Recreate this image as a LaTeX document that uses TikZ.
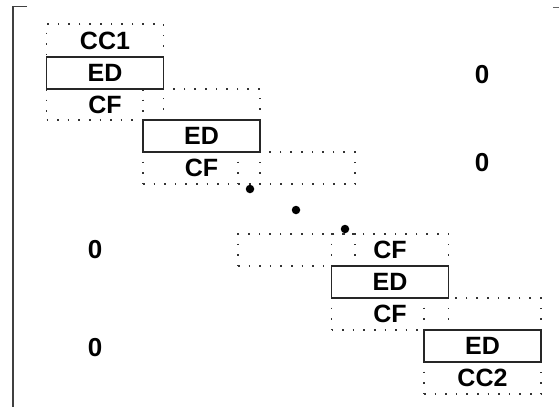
\documentclass[tikz,border=0pt]{standalone}
\usepackage{fontspec}
\setmainfont{Liberation Sans}
\begin{document}
\begin{tikzpicture}[x=1pt,y=-1pt,
  lbl/.style={font=\fontsize{25}{25}\selectfont\bfseries, inner sep=0pt, text=black},
  cell/.style={lbl, minimum width=117pt, minimum height=32pt, anchor=center},
  dotcell/.style={cell, draw=black!80, line width=1.1pt, dash pattern=on 1.6pt off 9pt},
  edcell/.style={cell, draw=black!85, line width=1.4pt},
  dotmark/.style={circle, fill=black, inner sep=0pt, minimum size=8.5pt},
  zero/.style={lbl, font=\fontsize{26}{26}\selectfont\bfseries}]
\useasboundingbox (0,0) rectangle (560,407);

% frame on the left edge
\draw[line width=1.8pt, black!75] (27,6.5) -- (13,6.5) -- (13,407);
\draw[line width=1pt, black!60] (553,7) -- (559,7);

% first block
\node[dotcell, minimum height=33pt] (cc1) at (105,40.5) {CC1};
\node[dotcell, minimum height=31pt] (cf1) at (105,104.5) {CF};
% second block
\node[dotcell, minimum height=31pt] (top2) at (201.5,104.5) {};
\node[dotcell] (cf2) at (201.5,168) {CF};
% third block (only its upper cell)
\node[dotcell] (top3) at (296.5,168) {};

% lower cell of the block preceding the last two
\node[dotcell] (bot4) at (296.5,250) {};
% block before last
\node[dotcell] (cf5a) at (390,250) {CF};
\node[dotcell] (cf5b) at (390,314) {CF};
% last block
\node[dotcell] (top6) at (482.5,314) {};
\node[dotcell] (cc2) at (482.5,378) {CC2};

% solid ED cells
\node[edcell] (ed1) at (105,73) {ED};
\node[edcell] (ed2) at (201.5,136) {ED};
\node[edcell] (ed5) at (390,282) {ED};
\node[edcell] (ed6) at (482.5,346) {ED};

% continuation dots
\node[dotmark] (d1) at (250,189) {};
\node[dotmark] (d2) at (296,210) {};
\node[dotmark] (d3) at (345,229) {};

% zero entries
\node[zero] (z1) at (482,75) {0};
\node[zero] (z2) at (482,163) {0};
\node[zero] (z3) at (95,250) {0};
\node[zero] (z4) at (95,348) {0};
\end{tikzpicture}
\end{document}
